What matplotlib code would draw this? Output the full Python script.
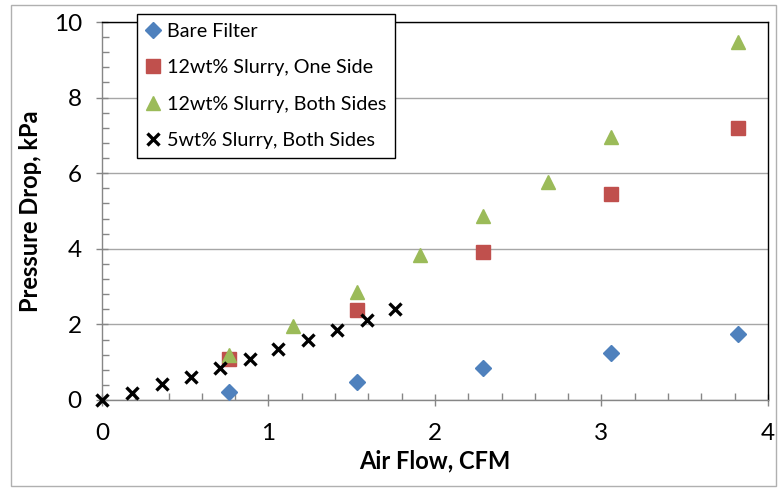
import matplotlib
matplotlib.use('Agg')
import matplotlib.pyplot as plt
from matplotlib.patches import Rectangle

plt.rcParams['font.family'] = ['Lato', 'DejaVu Sans']

# --- data ---
bare_x = [0.76, 1.53, 2.29, 3.06, 3.82]
bare_y = [0.20, 0.48, 0.85, 1.23, 1.74]

one_x = [0.76, 1.53, 2.29, 3.06, 3.82]
one_y = [1.09, 2.39, 3.92, 5.44, 7.20]

both_x = [0.76, 1.15, 1.53, 1.91, 2.29, 2.68, 3.06, 3.82]
both_y = [1.19, 1.96, 2.85, 3.84, 4.86, 5.78, 6.96, 9.46]

five_x = [0.0, 0.18, 0.36, 0.535, 0.71, 0.89, 1.06, 1.24, 1.41, 1.59, 1.76]
five_y = [0.0, 0.19, 0.41, 0.60, 0.84, 1.08, 1.34, 1.59, 1.85, 2.12, 2.41]

labels = ['Bare Filter', '12wt% Slurry, One Side',
          '12wt% Slurry, Both Sides', '5wt% Slurry, Both Sides']

fig = plt.figure(figsize=(7.78, 4.9), dpi=100)
ax = fig.add_axes([0.1311, 0.1837, 0.8560, 0.7714])

# light grey outer frame like the excel chart area
fig.patches.append(Rectangle((0.014, 0.008), 0.984, 0.982, transform=fig.transFigure,
                             fill=False, edgecolor='#b0b0b0', lw=1.0))

ax.plot(bare_x, bare_y, 'D', color='#4F81BD', ms=8, mec='#4F81BD', label=labels[0], zorder=3)
ax.plot(one_x, one_y, 's', color='#C0504D', ms=9.5, mec='#C0504D', label=labels[1], zorder=3)
ax.plot(both_x, both_y, '^', color='#9BBB59', ms=10.5, mec='#9BBB59', label=labels[2], zorder=4)
ax.plot(five_x, five_y, 'x', color='black', ms=8.5, mew=2.4, label=labels[3], zorder=5,
        clip_on=False)

ax.set_xlim(0, 4)
ax.set_ylim(0, 10)
ax.set_xticks([0, 1, 2, 3, 4])
ax.set_yticks([0, 2, 4, 6, 8, 10])
ax.set_xticks([i * 0.2 for i in range(21)], minor=True)
ax.set_yticks([i * 0.4 for i in range(26)], minor=True)
ax.yaxis.grid(True, which='major', color='#a6a6a6', lw=1.0)
ax.set_axisbelow(True)

ax.tick_params(which='major', direction='inout', length=9, width=1, color='#868686',
               labelsize=17.5, pad=10)
ax.tick_params(which='minor', direction='in', length=5, width=1, color='#868686')
ax.tick_params(axis='x', pad=12)

for s in ['left', 'bottom']:
    ax.spines[s].set_color('#868686')
for s in ['top', 'right']:
    ax.spines[s].set_color('black')
for s in ax.spines.values():
    s.set_linewidth(1.0)

ax.set_xlabel('Air Flow, CFM', fontsize=17, fontweight='bold', labelpad=4)
ax.set_ylabel('Pressure Drop, kPa', fontsize=17, fontweight='bold', labelpad=8)

leg = ax.legend(loc='upper left', bbox_to_anchor=(0.053, 1.021), fontsize=14.2,
                frameon=True, fancybox=False, edgecolor='black', framealpha=1,
                handlelength=0.7, handletextpad=0.35, labelspacing=0.98,
                borderpad=0.45, borderaxespad=0, numpoints=1)
leg.get_frame().set_linewidth(1.0)
leg.set_zorder(10)

fig.savefig('out.png', dpi=100)
